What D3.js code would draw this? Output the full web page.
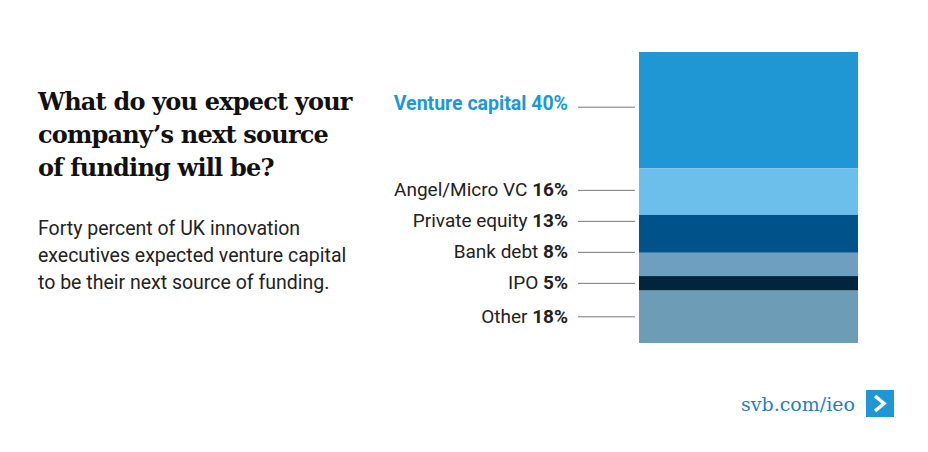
<!DOCTYPE html>
<html><head><meta charset="utf-8">
<script src="https://cdn.jsdelivr.net/npm/d3@7"></script>
<style>body{margin:0;background:#fff}svg{display:block}</style>
</head><body><svg id="c" width="928" height="452"></svg>
<script>
const categories = ["Venture capital", "Angel/Micro VC", "Private equity", "Bank debt", "IPO", "Other"];
const values = [40, 16, 13, 8, 5, 18];
const colors = ["#1f97d5", "#6bbfea", "#00528a", "#6f9fbf", "#00263f", "#6d9cb6"];

const svg = d3.select("#c");
const y = d3.scaleLinear().domain([0, d3.sum(values)]).range([52, 343]);
let acc = 0;
const segs = values.map((v, i) => { const s = {name: categories[i], v, c: colors[i], y0: acc, y1: acc + v}; acc += v; return s; });

svg.selectAll("rect.seg").data(segs).enter().append("rect")
  .attr("x", 639).attr("width", 219)
  .attr("y", d => y(d.y0)).attr("height", d => y(d.y1) - y(d.y0))
  .attr("fill", d => d.c);

// label positions: centers, pushed apart from the bottom up
segs.forEach(d => d.ly = (y(d.y0) + y(d.y1)) / 2);
for (let i = segs.length - 2; i >= 0; i--) segs[i].ly = Math.min(segs[i].ly, segs[i + 1].ly - 31);
segs[0].ly -= 3;

svg.selectAll("line.lab").data(segs).enter().append("line")
  .attr("x1", 578).attr("x2", 635).attr("y1", d => d.ly).attr("y2", d => d.ly)
  .attr("stroke", "#555").attr("stroke-width", 0.8);

const t = svg.selectAll("text.lab").data(segs).enter().append("text")
  .attr("x", 568).attr("y", d => d.ly + (d === segs[0] ? 3 : 6)).attr("text-anchor", "end")
  .attr("font-family", "Roboto").attr("font-size", (d, i) => i === 0 ? 19.5 : 19)
  .attr("fill", (d, i) => i === 0 ? "#1f97d5" : "#222")
  .attr("font-weight", (d, i) => i === 0 ? "bold" : "normal");
t.append("tspan").text((d, i) => d.name + (i === 0 ? " " : "  "));
t.append("tspan").attr("font-weight", "bold").text(d => d.v + "%");

const title = svg.append("text").attr("font-family", "DejaVu Serif").attr("font-weight", "bold")
  .attr("font-size", 24).attr("fill", "#111").attr("letter-spacing", -0.8);
["What do you expect your", "company\u2019s next source", "of funding will be?"].forEach((s, i) =>
  title.append("tspan").attr("x", 38).attr("y", 110 + i * 33).text(s));

const body = svg.append("text").attr("font-family", "Roboto").attr("font-size", 19.5).attr("fill", "#222");
["Forty percent of UK innovation", "executives expected venture capital", "to be their next source of funding."].forEach((s, i) =>
  body.append("tspan").attr("x", 38).attr("y", 235 + i * 27).text(s));

svg.append("text").attr("x", 855).attr("y", 411).attr("text-anchor", "end")
  .attr("font-family", "DejaVu Serif").attr("font-size", 19).attr("fill", "#1f7fc2").text("svb.com/ieo");
svg.append("rect").attr("x", 866).attr("y", 390).attr("width", 28).attr("height", 27).attr("fill", "#1f97d5");
svg.append("path").attr("d", "M875,396 L884,403.5 L875,411").attr("fill", "none")
  .attr("stroke", "#fff").attr("stroke-width", 3.5);
</script></body></html>
